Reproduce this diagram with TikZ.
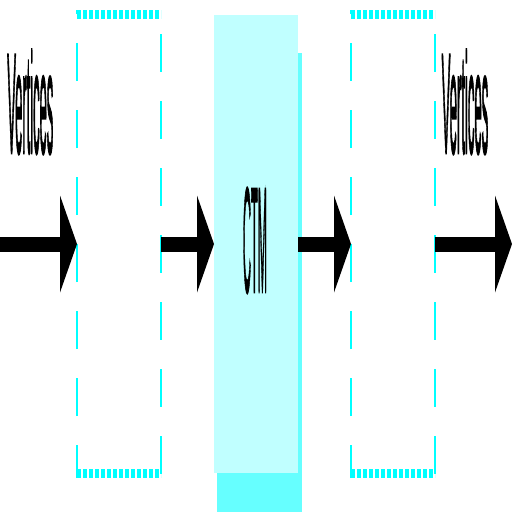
\documentclass[tikz,border=0pt]{standalone}
\usepackage{fontspec}
\setmainfont{Liberation Sans}
\newfontfamily\heavyish[FakeBold=2.5]{Liberation Sans}
\usepackage{graphicx}
\usetikzlibrary{arrows.meta}
\definecolor{dashcyan}{RGB}{0,255,255}
\definecolor{lightcyan}{RGB}{192,255,255}
\definecolor{shadowcyan}{RGB}{102,255,255}
\begin{document}
\begin{tikzpicture}[x=1pt,y=-1pt,
  stagebox/.style={minimum width=84pt,minimum height=468pt,inner sep=0pt,outer sep=0pt},
  ctmbox/.style={minimum width=84pt,minimum height=458pt,inner sep=0pt,outer sep=0pt,fill=lightcyan},
  hedge/.style={draw=dashcyan,line width=9pt,dash pattern=on 4pt off 2pt},
  vedge/.style={draw=dashcyan,line width=1.5pt,dash pattern=on 38pt off 29pt},
  bigarrow/.style={draw=black,line width=15pt,-{Triangle[length=17pt,width=97pt,line width=0pt]}},
  vtext/.style={inner sep=0pt,outer sep=0pt,text=black,font=\heavyish}]
\useasboundingbox (0,0) rectangle (512,512);
\fill[white] (0,0) rectangle (512,512);
% shadow of the CTM box
\fill[shadowcyan] (217,53) rectangle (302,512);
% boxes
\node[stagebox] (b1) at (119,244) {};
\node[ctmbox] (ctm) at (256,244) {};
\node[stagebox] (b3) at (393,244) {};
% dashed outlines
\foreach \b in {b1,b3}{
  \draw[vedge,dash phase=5pt] (\b.south west) -- (\b.north west);
  \draw[vedge,dash phase=43pt] (\b.north east) -- (\b.south east);
  \draw[hedge] ([yshift=-4.5pt]\b.north west) -- ([yshift=-4.5pt]\b.north east);
  \draw[hedge] ([yshift=5pt]\b.south west) -- ([yshift=5pt]\b.south east);
}
% texts
\node[vtext] (ctmtext) at (255,240.5) {\resizebox*{24pt}{105pt}{CTM}};
\node[vtext] (vl) at (30.3,102) {\resizebox*{46pt}{104pt}{Vertices}};
\node[vtext] (vr) at (465,102) {\resizebox*{46.6pt}{104pt}{Vertices}};
% arrows
\coordinate (in) at (0,244);
\coordinate (out) at (512,244);
\draw[bigarrow] (in) -- (b1.west);
\draw[bigarrow] (b1.east) -- (ctm.west);
\draw[bigarrow] (ctm.east) -- (b3.west);
\draw[bigarrow] (b3.east) -- (out);
\end{tikzpicture}
\end{document}
